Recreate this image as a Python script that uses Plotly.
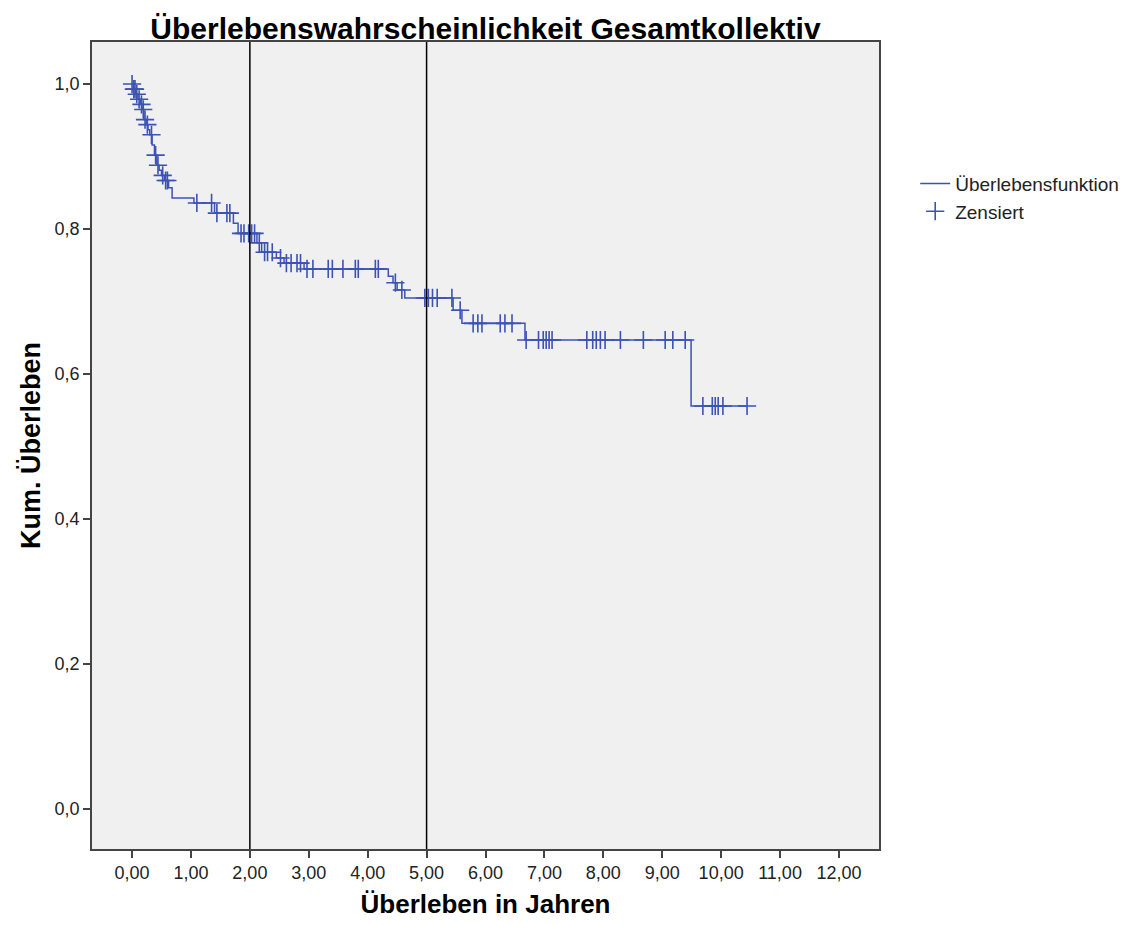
import numpy as np
import plotly.graph_objects as go

# ---- data ----
event_times = [0.02, 0.06, 0.10, 0.14, 0.17, 0.20, 0.24, 0.27, 0.30, 0.34, 0.38, 0.42,
               0.46, 0.50, 0.55, 0.62, 0.68, 1.05, 1.40, 1.72, 1.80, 2.12, 2.20, 2.45,
               2.58, 2.92, 4.35, 4.43, 4.50, 4.63, 5.45, 5.60, 6.67, 9.49]
survival = [0.993, 0.986, 0.979, 0.972, 0.965, 0.951, 0.944, 0.937, 0.930, 0.916, 0.902, 0.888,
            0.881, 0.874, 0.867, 0.857, 0.843, 0.836, 0.822, 0.808, 0.794, 0.781, 0.768, 0.760,
            0.753, 0.745, 0.735, 0.726, 0.716, 0.705, 0.688, 0.670, 0.647, 0.556]
end_time = 10.45

censor_times = [0.00, 0.03, 0.05, 0.08, 0.12, 0.16, 0.19, 0.22, 0.26, 0.33, 0.40, 0.44,
                0.52, 0.57, 0.60, 1.10, 1.35, 1.44, 1.61, 1.66, 1.85, 1.90, 1.98, 2.03,
                2.08, 2.16, 2.25, 2.30, 2.38, 2.52, 2.62, 2.70, 2.80, 2.86, 2.97, 3.07,
                3.33, 3.40, 3.58, 3.79, 3.84, 4.13, 4.18, 4.47, 4.58, 4.97, 5.03, 5.10,
                5.18, 5.43, 5.57, 5.79, 5.87, 5.94, 6.25, 6.33, 6.45, 6.69, 6.90, 6.98,
                7.03, 7.08, 7.13, 7.72, 7.82, 7.88, 7.95, 8.03, 8.29, 8.68, 9.05, 9.18,
                9.39, 9.69, 9.85, 9.90, 9.95, 10.03, 10.44]

ref_years = [2, 5]

x_tickvals = list(range(0, 13))
x_ticktext = ["0,00", "1,00", "2,00", "3,00", "4,00", "5,00", "6,00", "7,00",
              "8,00", "9,00", "10,00", "11,00", "12,00"]
y_tickvals = [0.0, 0.2, 0.4, 0.6, 0.8, 1.0]
y_ticktext = ["0,0", "0,2", "0,4", "0,6", "0,8", "1,0"]

# ---- build step function ----
step_x = [0.0] + event_times + [end_time]
step_y = [1.0] + survival + [survival[-1]]

et = np.array(event_times)
sv = np.array([1.0] + survival)
idx = np.searchsorted(et, np.array(censor_times), side="right")
censor_y = sv[idx]

blue = "#3d52b5"
font_family = "Liberation Sans, Arial, sans-serif"

fig = go.Figure()
fig.add_trace(go.Scatter(
    x=step_x, y=step_y, mode="lines", line=dict(color=blue, width=1.5, shape="hv"),
    name="Überlebensfunktion", hoverinfo="skip"))
fig.add_trace(go.Scatter(
    x=censor_times, y=censor_y, mode="markers",
    marker=dict(symbol="cross-thin", size=13, line=dict(color=blue, width=1.6), color=blue),
    name="Zensiert"))

for ry in ref_years:
    fig.add_shape(type="line", x0=ry, x1=ry, xref="x", y0=0, y1=1, yref="paper",
                  line=dict(color="black", width=1.5), layer="above")

axis_common = dict(showline=True, mirror=True, linecolor="#444", linewidth=1.5,
                   ticks="outside", ticklen=7, tickwidth=1.5, tickcolor="#444",
                   showgrid=False, zeroline=False,
                   tickfont=dict(family=font_family, size=18, color="#222"))

fig.update_layout(
    width=1140, height=925,
    margin=dict(l=92, r=261, t=42, b=76),
    paper_bgcolor="white", plot_bgcolor="#f0f0f0",
    font=dict(family=font_family, color="black"),
    title=dict(text="<b>Überlebenswahrscheinlichkeit Gesamtkollektiv</b>",
               font=dict(family=font_family, size=30, color="black"),
               x=(92 + 879) / 2 / 1140, xanchor="center", xref="container",
               y=1 - 28 / 925, yanchor="middle", yref="container"),
    xaxis=dict(range=[-0.68, 12.68], tickvals=x_tickvals, ticktext=x_ticktext,
               title=dict(text="<b>Überleben in Jahren</b>",
                          font=dict(family=font_family, size=26, color="black"),
                          standoff=12),
               **axis_common),
    yaxis=dict(range=[-0.055, 1.058], tickvals=y_tickvals, ticktext=y_ticktext,
               title=dict(text="<b>Kum. Überleben</b>",
                          font=dict(family=font_family, size=27, color="black"),
                          standoff=6),
               **axis_common),
    legend=dict(x=1.046, y=0.848, xanchor="left", yanchor="top",
                font=dict(family=font_family, size=19, color="#222"),
                bgcolor="rgba(0,0,0,0)", tracegroupgap=0),
    showlegend=True,
)

fig.write_html("out.html")
